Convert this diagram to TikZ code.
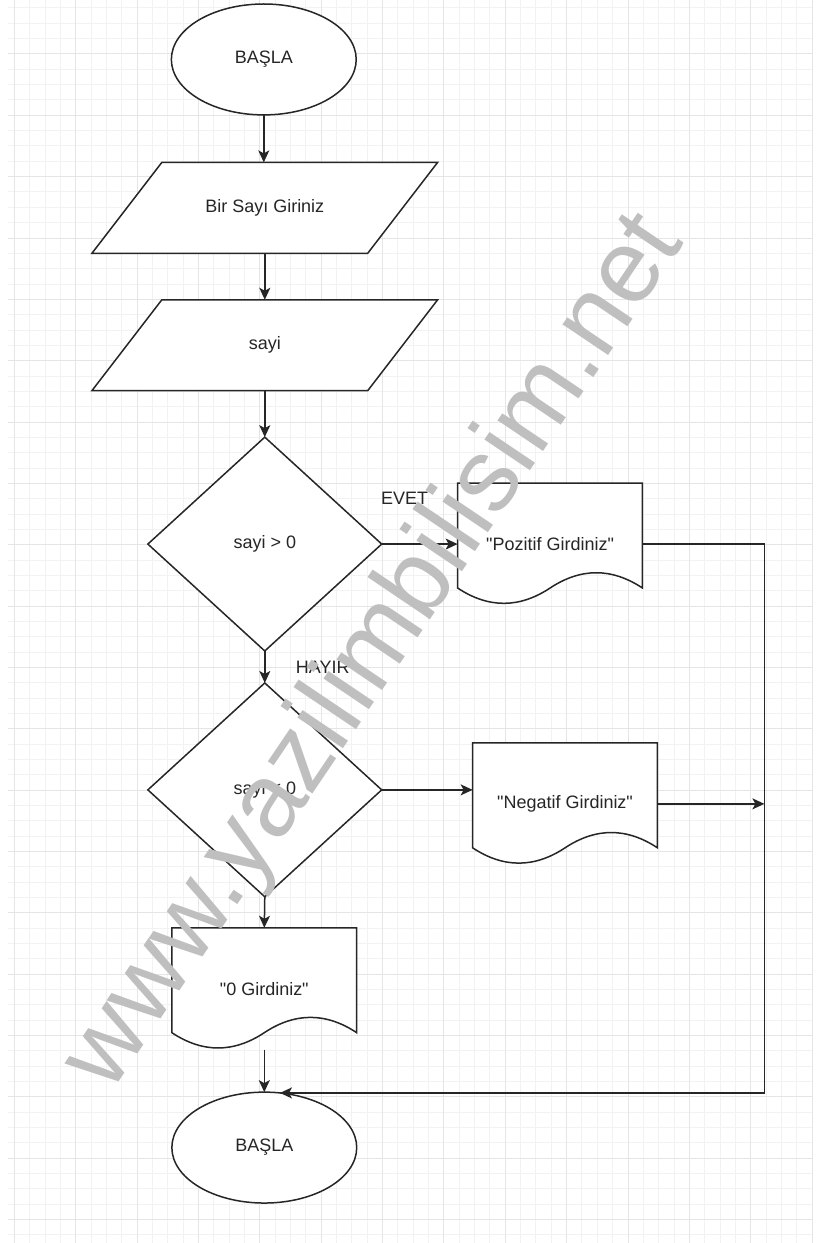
\documentclass[tikz,border=0pt]{standalone}
\usepackage{fontspec}
\newfontfamily\diagfont{Liberation Sans}
\usetikzlibrary{shapes.geometric,arrows.meta,calc}
\pgfdeclarelayer{gridlayer}
\pgfdeclarelayer{shapelayer}
\pgfsetlayers{gridlayer,shapelayer,main}
\definecolor{minorgrid}{HTML}{F2F2F2}
\definecolor{majorgrid}{HTML}{E5E5E5}
\definecolor{ink}{HTML}{262626}
\definecolor{wmgray}{HTML}{BFBFBF}
\newcommand\paraoutline[1]{%
  \draw[shp] ($(#1.north west)+(35,0)$) -- ($(#1.north east)+(35,0)$) --
    ($(#1.south east)+(-35,0)$) -- ($(#1.south west)+(-35,0)$) -- cycle;}
\newcommand\docoutline[1]{%
  \draw[shp] (#1.north west) -- (#1.north east) -- ($(#1.south east)+(0,-17)$)
    .. controls ($(#1.south west)+(154.2,-37.4)$) and ($(#1.south west)+(123.3,-37.4)$) .. ($(#1.south)+(0,-17)$)
    .. controls ($(#1.south west)+(61.7,3.4)$) and ($(#1.south west)+(30.8,3.4)$) .. ($(#1.south west)+(0,-17)$) -- cycle;}
\begin{document}
\begin{tikzpicture}[x=1pt,y=-1pt,
  shp/.style={draw=ink, line width=1.5pt, fill=white, line join=miter},
  txt/.style={font=\diagfont\fontsize{18}{21}\selectfont, text=ink, inner sep=0pt, outer sep=0pt},
  ovalbox/.style={txt, ellipse, draw=ink, line width=1.5pt, fill=white, minimum width=185pt, minimum height=111pt},
  parabox/.style={txt, rectangle, minimum width=276pt, minimum height=91pt},
  decbox/.style={txt, diamond, draw=ink, line width=1.5pt, fill=white, minimum width=234pt, minimum height=214pt},
  docbox/.style={txt, rectangle, minimum width=185pt, minimum height=122pt},
  edgelabel/.style={txt},
  conn/.style={draw=ink, line width=1.5pt, -{Stealth[length=12pt,width=11pt,inset=3pt]}},
  wmstyle/.style={font=\diagfont\fontsize{104}{110}\selectfont, text=wmgray, inner sep=0pt}
]
\begin{pgfonlayer}{gridlayer}
  \fill[white] (0,0) rectangle (830,1243);
  \foreach \i in {0,...,52} {
    \draw[minorgrid, line width=1pt] ({14.5+15.35*\i},0) -- ({14.5+15.35*\i},1243);
  }
  \foreach \j in {0,...,80} {
    \draw[minorgrid, line width=1pt] (8,{7.45+15.35*\j}) -- (813,{7.45+15.35*\j});
  }
  \foreach \i in {0,...,13} {
    \draw[majorgrid, line width=1pt] ({14.5+61.4*\i},0) -- ({14.5+61.4*\i},1243);
  }
  \foreach \j in {0,...,19} {
    \draw[majorgrid, line width=1pt] (8,{53.5+61.4*\j}) -- (813,{53.5+61.4*\j});
  }
\end{pgfonlayer}
\useasboundingbox (0,0) rectangle (830,1243);

% nodes
\node[ovalbox] (start) at (264,59) {BAŞLA};
\node[parabox] (p1) at (265,207.5) {Bir Sayı Giriniz};
\node[parabox] (p2) at (265,345) {sayi};
\node[decbox] (d1) at (265,544) {sayi > 0};
\node[docbox] (doc1) at (550.5,544) {"Pozitif Girdiniz"};
\node[decbox] (d2) at (265,790) {sayi < 0};
\node[docbox] (doc2) at (565.5,804) {"Negatif Girdiniz"};
\node[docbox] (doc3) at (264.5,989) {"0 Girdiniz"};
\node[ovalbox] (stop) at (264.5,1148) {BAŞLA};
\node[edgelabel] (evet) at (405,498) {EVET};
\node[edgelabel] (hayir) at (323,667) {HAYIR};
\coordinate (rc) at (765,544);

\begin{pgfonlayer}{shapelayer}
  \paraoutline{p1}
  \paraoutline{p2}
  \docoutline{doc1}
  \docoutline{doc2}
  \docoutline{doc3}
\end{pgfonlayer}

% connectors
\draw[conn] (start.south) -- (start.south |- p1.north);
\draw[conn] (p1.south) -- (p2.north);
\draw[conn] (p2.south) -- (d1.north);
\draw[conn] (d1.east) -- (d1.east -| doc1.west);
\draw[conn] (d1.south) -- (d2.north);
\draw[conn] (d2.east) -- (d2.east -| doc2.west);
\draw[conn] (d2.south) -- (doc3.north);
\draw[conn] (doc3.south) -- (stop.north);
\draw[conn] (doc1.east) -- (rc) |- (stop.74);
\draw[conn] (doc2.east) -- (doc2.east -| rc);

% watermark
\node[wmstyle, rotate=56, anchor=base] (wm) at (398,668) {www.yazilimbilisim.net};
\end{tikzpicture}
\end{document}
